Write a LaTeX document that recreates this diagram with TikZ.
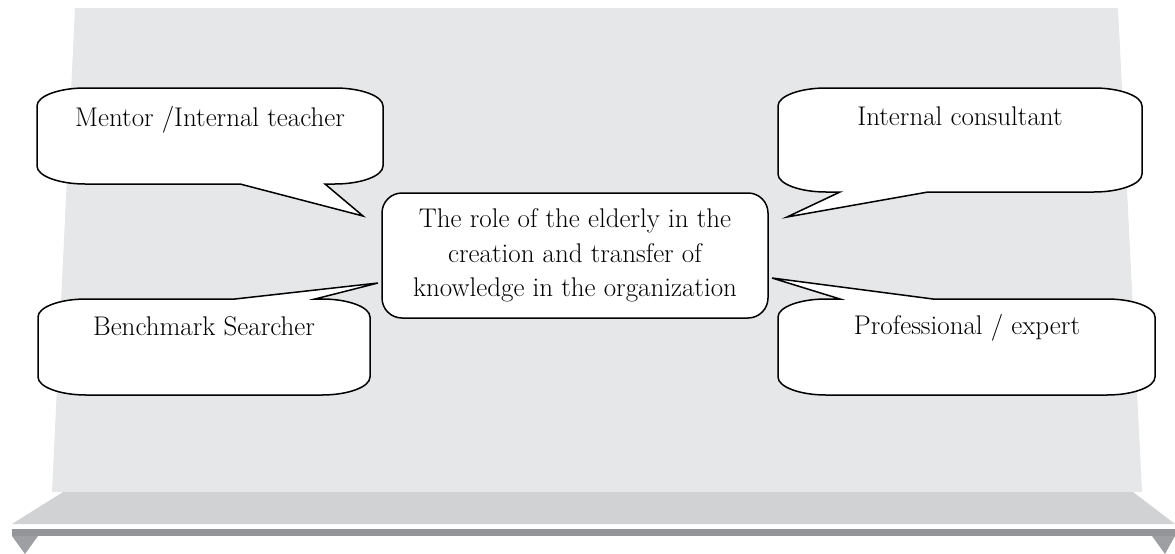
\documentclass[tikz,border=0pt]{standalone}
\usepackage{tikz}
\definecolor{bggray}{HTML}{E6E7E8}
\definecolor{shelfgray}{HTML}{D1D2D4}
\definecolor{bargray}{HTML}{939598}
\definecolor{footgray}{HTML}{9D9FA2}
\begin{document}
\begin{tikzpicture}[x=1pt,y=-1pt,
  callout/.style={draw=black,fill=white,line width=1.5pt,line join=miter},
  label/.style={anchor=base,inner sep=0pt,font=\fontsize{27}{34}\selectfont},
  centerbox/.style={draw=black,fill=white,line width=1.5pt,rounded corners=20pt,
    minimum width=386pt,minimum height=125pt,align=center,inner sep=0pt,
    font=\fontsize{27}{34.5}\selectfont}]
\useasboundingbox (0,0) rectangle (1175,554);
% background panel
\fill[bggray] (75,8) -- (1118,8) -- (1142,492) -- (52,492) -- cycle;
% shelf
\fill[shelfgray] (63,492) -- (1133,492) -- (1175,524) -- (12,524) -- cycle;
\fill[bargray] (12,529) rectangle (1175,536);
\fill[footgray] (12,536) -- (38,536) -- (25,554) -- cycle;
\fill[footgray] (1152,536) -- (1175,536) -- (1165,554) -- cycle;
% callout: Mentor (L37 T88 R383 B184), rx 48, ry 18
\draw[callout] (85,88) -- (335,88) .. controls (361,88) and (383,96) .. (383,106) -- (383,166)
  .. controls (383,176) and (361,184) .. (335,184) -- (325,184) -- (363,216) -- (240,184) -- (85,184)
  .. controls (59,184) and (37,176) .. (37,166) -- (37,106) .. controls (37,96) and (59,88) .. (85,88) -- cycle;
% callout: Internal consultant (L778 T88 R1142 B192)
\draw[callout] (826,88) -- (1094,88) .. controls (1120,88) and (1142,96) .. (1142,106) -- (1142,174)
  .. controls (1142,184) and (1120,192) .. (1094,192) -- (928,192) -- (787,217) -- (840,192) -- (826,192)
  .. controls (800,192) and (778,184) .. (778,174) -- (778,106) .. controls (778,96) and (800,88) .. (826,88) -- cycle;
% callout: Benchmark (L38 T299 R370 B395)
\draw[callout] (86,299) -- (235,299) -- (378,283) -- (315,299) -- (322,299)
  .. controls (348,299) and (370,307) .. (370,317) -- (370,377) .. controls (370,387) and (348,395) .. (322,395)
  -- (86,395) .. controls (60,395) and (38,387) .. (38,377) -- (38,317) .. controls (38,307) and (60,299) .. (86,299) -- cycle;
% callout: Professional (L778 T299 R1155 B395)
\draw[callout] (826,299) -- (840,299) -- (772,278) -- (933,299) -- (1107,299)
  .. controls (1133,299) and (1155,307) .. (1155,317) -- (1155,377) .. controls (1155,387) and (1133,395) .. (1107,395)
  -- (826,395) .. controls (800,395) and (778,387) .. (778,377) -- (778,317) .. controls (778,307) and (800,299) .. (826,299) -- cycle;
% labels
\node[label] (mentor) at (210,126) {Mentor /Internal teacher};
\node[label] (consult) at (960,125) {Internal consultant};
\node[label] (bench) at (204,335) {Benchmark Searcher};
\node[label] (prof) at (967,334) {Professional / expert};
\node[centerbox] (center) at (575,255.5) {The role of the elderly in the\\creation and transfer of\\knowledge in the organization};
\end{tikzpicture}
\end{document}
